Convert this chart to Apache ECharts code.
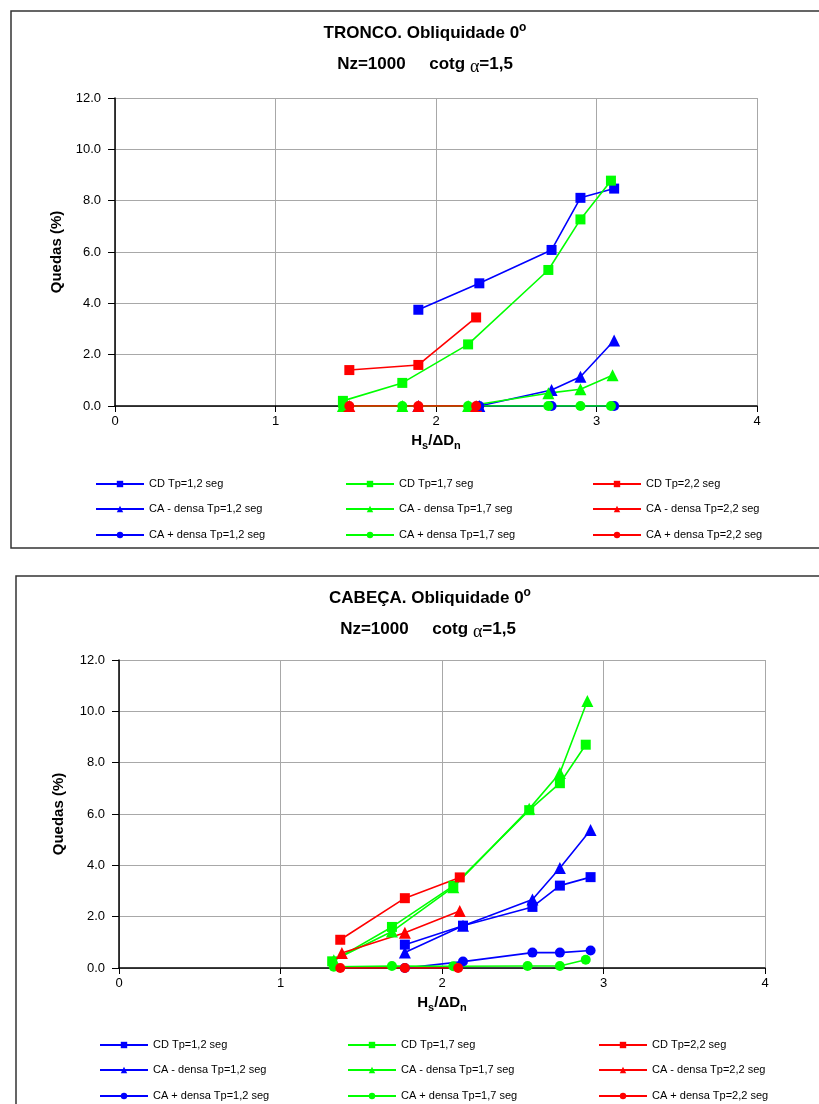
<!DOCTYPE html>
<html>
<head>
<meta charset="utf-8">
<script src="https://cdn.jsdelivr.net/npm/echarts@6/dist/echarts.min.js"></script>
<style>
  html, body { margin: 0; padding: 0; background: #fff; }
  #chart { width: 819px; height: 1104px; }
</style>
</head>
<body>
<div id="chart"></div>
<script>
// series names (legend reads column by column: blue, green, red)
const names = [
  "CD Tp=1,2 seg", "CD Tp=1,7 seg", "CD Tp=2,2 seg",
  "CA - densa Tp=1,2 seg", "CA - densa Tp=1,7 seg", "CA - densa Tp=2,2 seg",
  "CA + densa Tp=1,2 seg", "CA + densa Tp=1,7 seg", "CA + densa Tp=2,2 seg",
];

// TRONCO  [Hs/ΔDn, quedas %]
const troncoCD12 = [[1.89, 3.75], [2.27, 4.78], [2.72, 6.08], [2.90, 8.11], [3.11, 8.47]];
const troncoCD17 = [[1.42, 0.2], [1.79, 0.9], [2.20, 2.4], [2.70, 5.3], [2.90, 7.27], [3.09, 8.78]];
const troncoCD22 = [[1.46, 1.4], [1.89, 1.6], [2.25, 3.45]];
const troncoCAm12 = [[1.89, 0], [2.27, 0], [2.72, 0.62], [2.90, 1.14], [3.11, 2.55]];
const troncoCAm17 = [[1.42, 0], [1.79, 0], [2.20, 0], [2.70, 0.5], [2.90, 0.65], [3.10, 1.2]];
const troncoCAm22 = [[1.46, 0], [1.89, 0], [2.25, 0]];
const troncoCAp12 = [[2.27, 0], [2.72, 0], [3.11, 0]];
const troncoCAp17 = [[1.42, 0], [1.79, 0], [2.20, 0], [2.70, 0], [2.90, 0], [3.09, 0]];
const troncoCAp22 = [[1.46, 0], [1.89, 0], [2.25, 0]];

// CABEÇA
const cabecaCD12 = [[1.77, 0.91], [2.13, 1.65], [2.56, 2.38], [2.73, 3.21], [2.92, 3.54]];
const cabecaCD17 = [[1.32, 0.26], [1.69, 1.6], [2.07, 3.2], [2.54, 6.15], [2.73, 7.2], [2.89, 8.7]];
const cabecaCD22 = [[1.37, 1.1], [1.77, 2.72], [2.11, 3.53]];
const cabecaCAm12 = [[1.77, 0.6], [2.13, 1.65], [2.56, 2.67], [2.73, 3.9], [2.92, 5.38]];
const cabecaCAm17 = [[1.33, 0.3], [1.69, 1.42], [2.07, 3.15], [2.54, 6.2], [2.73, 7.6], [2.90, 10.4]];
const cabecaCAm22 = [[1.38, 0.58], [1.77, 1.37], [2.11, 2.22]];
const cabecaCAp12 = [[1.77, 0], [2.13, 0.25], [2.56, 0.6], [2.73, 0.6], [2.92, 0.68]];
const cabecaCAp17 = [[1.33, 0.05], [1.69, 0.08], [2.07, 0.07], [2.53, 0.08], [2.73, 0.08], [2.89, 0.32]];
const cabecaCAp22 = [[1.37, 0], [1.77, 0], [2.10, 0]];

const xTicks = { min: 0, max: 4, interval: 1 };
const yTicks = { min: 0, max: 12, interval: 2 };

const tronco = [troncoCD12, troncoCD17, troncoCD22, troncoCAm12, troncoCAm17, troncoCAm22, troncoCAp12, troncoCAp17, troncoCAp22];
const cabeca = [cabecaCD12, cabecaCD17, cabecaCD22, cabecaCAm12, cabecaCAm17, cabecaCAm22, cabecaCAp12, cabecaCAp17, cabecaCAp22];

const colors = ["#0000ff", "#00ff00", "#ff0000"];
const symbols = ["rect", "triangle", "circle"];
const symbolSizes = [10, 12, 10];
const FONT = "Liberation Sans, Arial, sans-serif";
const GRID_COLOR = "#a8a8a8";

function makeSeries(list, idx) {
  return list.map((data, i) => ({
    name: names[i],
    type: "line",
    xAxisIndex: idx,
    yAxisIndex: idx,
    data: data,
    symbol: symbols[Math.floor(i / 3)],
    symbolSize: symbolSizes[Math.floor(i / 3)],
    color: colors[i % 3],
    lineStyle: { width: 1.6 },
    animation: false,
  }));
}

function xAxis(idx) {
  return {
    type: "value", gridIndex: idx, ...xTicks,
    axisLine: { onZero: false, lineStyle: { color: "#000", width: 1.5 } },
    axisTick: { length: 6, lineStyle: { color: "#000" } },
    axisLabel: { color: "#000", fontSize: 13, margin: 9, fontFamily: FONT },
    splitLine: { show: true, lineStyle: { color: GRID_COLOR, width: 1 } },
    name: "{b|H}{s|s}{b|/ΔD}{s|n}",
    nameLocation: "middle",
    nameGap: 25,
    nameTextStyle: {
      rich: {
        b: { fontSize: 15, fontWeight: "bold", color: "#000", fontFamily: FONT },
        s: { fontSize: 11, fontWeight: "bold", color: "#000", fontFamily: FONT, padding: [9, 0, 0, 0] },
      },
    },
  };
}

function yAxis(idx, gap) {
  return {
    type: "value", gridIndex: idx, ...yTicks,
    axisLine: { show: true, lineStyle: { color: "#000", width: 1.5 } },
    axisTick: { show: true, length: 7, lineStyle: { color: "#000" } },
    axisLabel: { color: "#000", fontSize: 13, margin: 14, fontFamily: FONT, formatter: (v) => v.toFixed(1) },
    splitLine: { show: true, lineStyle: { color: GRID_COLOR, width: 1 } },
    name: "Quedas (%)",
    nameLocation: "middle",
    nameGap: gap,
    nameTextStyle: { fontSize: 15, fontWeight: "bold", color: "#000", fontFamily: FONT },
  };
}

// one legend per entry, so each sits exactly where the reference puts it
function legends(cols, rows) {
  const out = [];
  names.forEach((name, i) => {
    out.push({
      data: [name],
      left: cols[i % 3],
      top: rows[Math.floor(i / 3)] - 7,
      padding: 0,
      itemWidth: 48,
      itemHeight: 8,
      selectedMode: false,
      textStyle: { fontSize: 11, color: "#000", fontFamily: FONT, lineHeight: 14 },
    });
  });
  return out;
}

const titleRich = {
  t: { fontSize: 17, fontWeight: "bold", fontFamily: FONT, color: "#000" },
  o: { fontSize: 12, fontWeight: "bold", fontFamily: FONT, color: "#000", padding: [0, 0, 10, 0] },
  a: { fontSize: 18, fontFamily: "Liberation Serif, serif", color: "#000", padding: [6, 0, 0, 0] },
};

function titleText(x, y, text) {
  return {
    type: "text", x: x, y: y, silent: true,
    style: { text: text, rich: titleRich, align: "center", verticalAlign: "middle" },
  };
}

const chart = echarts.init(document.getElementById("chart"));
chart.setOption({
  backgroundColor: "#fff",
  animation: false,
  grid: [
    { left: 115, top: 98, width: 642, height: 308 },
    { left: 119, top: 660, width: 646, height: 308 },
  ],
  xAxis: [xAxis(0), xAxis(1)],
  yAxis: [yAxis(0, 51), yAxis(1, 53)],
  legend: [
    ...legends([95, 345, 592], [484, 509, 535]),
    ...legends([99, 347, 598], [1045, 1070, 1096]),
  ],
  graphic: [
    { type: "rect", silent: true, shape: { x: 11, y: 11, width: 840, height: 537 }, style: { fill: "none", stroke: "#333", lineWidth: 1.5 } },
    { type: "rect", silent: true, shape: { x: 16, y: 576, width: 840, height: 560 }, style: { fill: "none", stroke: "#333", lineWidth: 1.5 } },
    titleText(425, 33, "{t|TRONCO. Obliquidade 0}{o|o}"),
    titleText(425, 64, "{t|Nz=1000     cotg }{a|α}{t|=1,5}"),
    titleText(430, 598, "{t|CABEÇA. Obliquidade 0}{o|o}"),
    titleText(428, 629, "{t|Nz=1000     cotg }{a|α}{t|=1,5}"),
  ],
  series: [...makeSeries(tronco, 0), ...makeSeries(cabeca, 1)],
});
</script>
</body>
</html>
